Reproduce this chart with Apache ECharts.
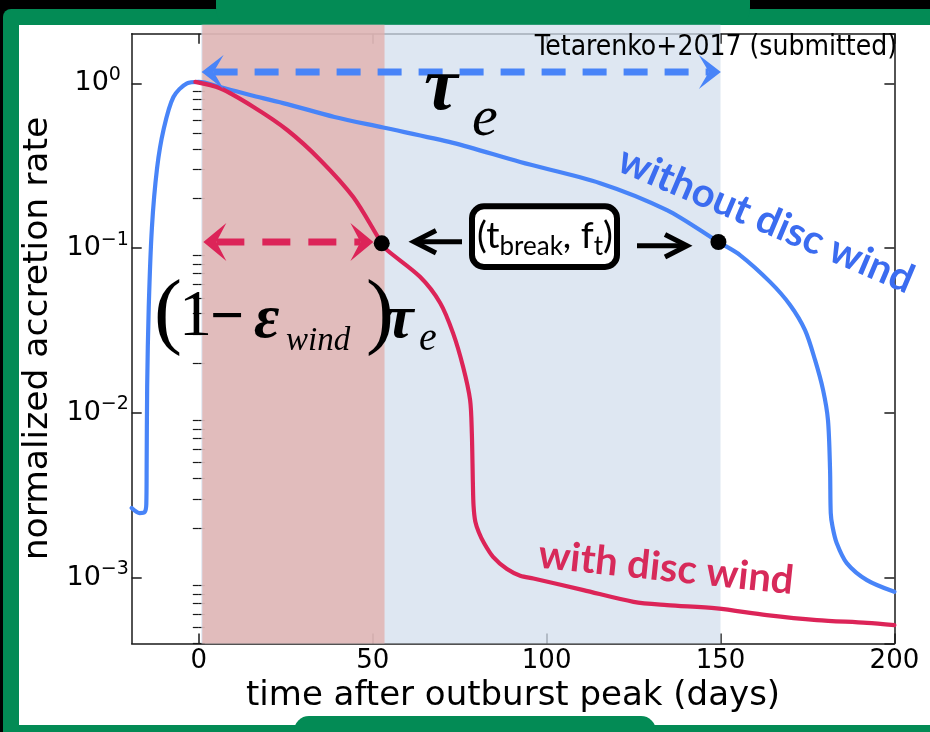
<!DOCTYPE html>
<html>
<head>
<meta charset="utf-8">
<script src="https://cdn.jsdelivr.net/npm/echarts@6/dist/echarts.min.js"></script>
<style>
  html, body { margin: 0; padding: 0; background: #000; }
  #chart { width: 930px; height: 732px; }
</style>
</head>
<body>
<div id="chart"></div>
<script>
// Outburst decay of the accretion rate (normalised to peak), with and without a disc wind.

// time after outburst peak (days) and normalised accretion rate, no disc wind
const noWindT = [-19.3, -17.0, -15.6, -15.1, -15.0, -14.85, -14.4, -13.5, -12.0, -10.1, -7.3, -3.4, 0.0,
  6.1, 15.6, 25.4, 39.0, 53.0, 73.1, 92.4, 115.4, 134.6, 149.4, 155.6, 164.3, 170.0, 174.3, 177.2, 179.5,
  180.9, 181.5, 181.7, 182.2, 183.4, 186.3, 192.1, 200.0];
const noWindRate = [2.65e-3, 2.47e-3, 2.5e-3, 2.8e-3, 4.8e-3, 0.0146, 0.0439, 0.132, 0.306, 0.528, 0.826, 1.0, 1.02,
  0.95, 0.84, 0.748, 0.625, 0.539, 0.435, 0.333, 0.248, 0.170, 0.109, 0.0908, 0.0622, 0.0452, 0.0318, 0.0209, 0.01377,
  0.00906, 0.00451, 0.00247, 0.00205, 0.001625, 0.001228, 0.000968, 0.000822];

// same, with a disc wind
const windT = [-1.0, 6.1, 15.6, 25.4, 34.9, 44.4, 52.6, 54.1, 63.6, 69.4, 73.1, 76.0, 78.0, 78.5, 78.8, 79.0,
  79.5, 80.5, 82.0, 84.6, 88.6, 92.4, 96.2, 110.6, 125.0, 134.6, 148.9, 163.3, 177.7, 192.1, 200.0];
const windRate = [1.02, 0.933, 0.721, 0.521, 0.343, 0.204, 0.107, 0.0974, 0.067, 0.0465, 0.0305, 0.019, 0.01198,
  0.00755, 0.00376, 0.00272, 0.00219, 0.00189, 0.001625, 0.00134, 0.00113, 0.00103, 0.00099, 0.000842, 0.000715,
  0.000683, 0.000652, 0.000594, 0.000554, 0.000533, 0.000516];

// break points (t_break, f_t): [with wind, without wind]
const breakT = [52.6, 149.4];
const breakRate = [0.107, 0.109];

// e-folding time spans drawn as double arrows
const tauSpan = [0.8, 150.1];
const tauLevel = 1.17;
const windSpan = [1.3, 50.2];
const windLevel = 0.109;

// shaded intervals
const tauBand = [0.7, 150.0];
const windBand = [1.0, 53.4];

// axes
const xRange = [-19.3, 200];
const yRange = [4e-4, 2];
const xTicks = [0, 50, 100, 150, 200];
const yMinorTicks = [4e-4, 5e-4, 6e-4, 7e-4, 8e-4, 9e-4,
  2e-3, 3e-3, 4e-3, 5e-3, 6e-3, 7e-3, 8e-3, 9e-3,
  2e-2, 3e-2, 4e-2, 5e-2, 6e-2, 7e-2, 8e-2, 9e-2,
  0.2, 0.3, 0.4, 0.5, 0.6, 0.7, 0.8, 0.9];

const BLUE = '#4884f8';
const RED = '#dc2458';
const GREEN = '#038b55';
const INK = '#1a1a1a';

const zip = (xs, ys) => xs.map((x, i) => [x, ys[i]]);

function bandItem(fill) {
  return function (params, api) {
    const cs = params.coordSys;
    const a = api.coord([api.value(0), 1]);
    const b = api.coord([api.value(1), 1]);
    return {
      type: 'rect',
      shape: { x: a[0], y: cs.y - 9, width: b[0] - a[0], height: cs.height + 9 },
      style: { fill: fill }
    };
  };
}

function doubleArrow(span, level, color, lw, dash, head) {
  return function (params, api) {
    const p0 = api.coord([span[0], level]);
    const p1 = api.coord([span[1], level]);
    const y = p0[1];
    const L = head.len, W = head.half, N = head.notch;
    return {
      type: 'group',
      children: [
        { type: 'line', shape: { x1: p0[0] + N, y1: y, x2: p1[0] - N, y2: y },
          style: { stroke: color, lineWidth: lw, lineDash: dash } },
        { type: 'polygon', shape: { points: [[p0[0], y], [p0[0] + L, y - W], [p0[0] + N, y], [p0[0] + L, y + W]] },
          style: { fill: color } },
        { type: 'polygon', shape: { points: [[p1[0], y], [p1[0] - L, y - W], [p1[0] - N, y], [p1[0] - L, y + W]] },
          style: { fill: color } }
      ]
    };
  };
}

function glyph(text, x, base, size, extra) {
  return {
    type: 'text', z: 30, x: x, y: base - 0.34 * size,
    style: Object.assign({
      text: text, fontSize: size, fontFamily: 'Liberation Serif', fill: '#000',
      align: 'left', verticalAlign: 'middle'
    }, extra || {})
  };
}

const logLabel = v => {
  const e = Math.round(Math.log10(v));
  return '{b|10}{s|' + (e < 0 ? '\u2212' + (-e) : e) + '}';
};

const xBase = {
  type: 'value', min: xRange[0], max: xRange[1],
  axisLine: { show: true, onZero: false, lineStyle: { color: INK, width: 1.5 } },
  axisTick: { show: true, inside: true, length: 10, customValues: xTicks, lineStyle: { color: INK, width: 1.5 } },
  splitLine: { show: false }
};
const yBase = {
  type: 'log', logBase: 10, min: yRange[0], max: yRange[1],
  splitLine: { show: false }, minorSplitLine: { show: false }
};
const majorTick = { show: true, inside: true, length: 10, lineStyle: { color: INK, width: 1.5 } };
const minorTick = { show: true, inside: true, length: 6, customValues: yMinorTicks, lineStyle: { color: INK, width: 1.2 } };
const frameLine = { show: true, onZero: false, lineStyle: { color: INK, width: 1.5 } };

const chart = echarts.init(document.getElementById('chart'), null, { renderer: 'canvas' });

chart.setOption({
  backgroundColor: '#000',
  animation: false,
  grid: { left: 131.7, right: 35.6, top: 33.7, bottom: 88.6, containLabel: false, outerBoundsMode: 'none' },
  xAxis: [
    Object.assign({}, xBase, {
      position: 'bottom',
      axisLabel: { customValues: xTicks, fontSize: 26, fontFamily: 'DejaVu Sans', color: '#000', margin: 5 },
      name: 'time after outburst peak (days)', nameLocation: 'middle', nameGap: 35,
      nameTextStyle: { fontSize: 34, fontFamily: 'DejaVu Sans', color: '#000' }
    }),
    Object.assign({}, xBase, { position: 'top', axisLabel: { show: false } })
  ],
  yAxis: [
    Object.assign({}, yBase, {
      position: 'left', axisLine: frameLine, axisTick: majorTick,
      axisLabel: {
        formatter: logLabel, align: 'center', margin: 34, showMinLabel: false, showMaxLabel: false,
        fontSize: 27, fontFamily: 'DejaVu Sans', color: '#000',
        rich: {
          b: { fontSize: 27, fontFamily: 'DejaVu Sans', color: '#000', lineHeight: 36, verticalAlign: 'middle' },
          s: { fontSize: 19, fontFamily: 'DejaVu Sans', color: '#000', lineHeight: 17, verticalAlign: 'top' }
        }
      },
      name: 'normalized accretion rate', nameLocation: 'middle', nameGap: 69,
      nameTextStyle: { fontSize: 34.5, fontFamily: 'DejaVu Sans', color: '#000' }
    }),
    Object.assign({}, yBase, { position: 'left', axisLine: { show: false }, axisTick: minorTick, axisLabel: { show: false } }),
    Object.assign({}, yBase, { position: 'right', axisLine: frameLine, axisTick: majorTick,
      axisLabel: { show: false, showMinLabel: false, showMaxLabel: false } }),
    Object.assign({}, yBase, { position: 'right', axisLine: { show: false }, axisTick: minorTick, axisLabel: { show: false } })
  ],
  series: [
    { type: 'custom', name: 'tau band', z: 1, clip: false, silent: true,
      encode: { x: [0, 1] }, data: [tauBand], renderItem: bandItem('rgba(211,223,238,0.75)') },
    { type: 'custom', name: 'wind band', z: 1, clip: false, silent: true,
      encode: { x: [0, 1] }, data: [windBand], renderItem: bandItem('rgba(225,174,170,0.75)') },
    { type: 'line', name: 'without disc wind', z: 3, data: zip(noWindT, noWindRate),
      showSymbol: false, smooth: 0.3,
      lineStyle: { color: BLUE, width: 4.2, cap: 'round', join: 'round' } },
    { type: 'line', name: 'with disc wind', z: 3, data: zip(windT, windRate),
      showSymbol: false, smooth: 0.3,
      lineStyle: { color: RED, width: 4.2, cap: 'round', join: 'round' } },
    { type: 'custom', name: 'tau_e', z: 4, clip: false, silent: true,
      data: [[tauSpan[0], tauLevel]],
      renderItem: doubleArrow(tauSpan, tauLevel, BLUE, 7, [24, 17], { len: 22, half: 17, notch: 12 }) },
    { type: 'custom', name: '(1-eps)tau_e', z: 4, clip: false, silent: true,
      data: [[windSpan[0], windLevel]],
      renderItem: doubleArrow(windSpan, windLevel, RED, 7, [28, 18], { len: 23, half: 19, notch: 13 }) },
    { type: 'scatter', name: 'break', z: 6, data: zip(breakT, breakRate),
      symbol: 'circle', symbolSize: 16, itemStyle: { color: '#000', opacity: 1 } }
  ],
  graphic: {
    elements: [
      // frame around the panel
      { type: 'rect', z: -20, shape: { x: 3, y: 9, width: 960, height: 760, r: 8 }, style: { fill: GREEN } },
      { type: 'rect', z: -20, shape: { x: 216, y: -30, width: 534, height: 60, r: 22 }, style: { fill: GREEN } },
      { type: 'rect', z: -19, shape: { x: 19, y: 25, width: 930, height: 700 }, style: { fill: '#fff' } },
      { type: 'rect', z: -18, shape: { x: 294, y: 716, width: 362, height: 40, r: 15 }, style: { fill: GREEN } },

      // reference note
      { type: 'text', z: 30, x: 897, y: 48,
        style: { text: 'Tetarenko+2017 (submitted)', fontSize: 28, fontFamily: 'DejaVu Sans Condensed, DejaVu Sans',
          fill: '#000', align: 'right', verticalAlign: 'middle' } },

      // tau_e
      glyph('\u03c4', 424, 115, 76, { fontWeight: 'bold', fontStyle: 'italic' }),
      glyph('e', 472, 139, 58, { fontStyle: 'italic' }),

      // (1 - eps_wind) tau_e
      glyph('(', 154, 344, 84),
      glyph('1', 179, 340, 66),
      glyph('\u2212', 210, 340, 60, { fontWeight: 'bold' }),
      glyph('\u03b5', 254, 342, 62, { fontWeight: 'bold', fontStyle: 'italic' }),
      glyph('wind', 286, 353, 33, { fontStyle: 'italic' }),
      glyph(')', 366, 344, 84),
      glyph('\u03c4', 386, 342, 62, { fontWeight: 'bold', fontStyle: 'italic' }),
      glyph('e', 419, 353, 40, { fontStyle: 'italic' }),

      // (t_break, f_t) box with pointers
      { type: 'rect', z: 30, shape: { x: 472, y: 206.3, width: 145, height: 60.7, r: 12 },
        style: { fill: '#fff', stroke: '#000', lineWidth: 6 } },
      { type: 'text', z: 31, x: 545, y: 236.5,
        style: { text: '{m|(t}{s|break}{m|, f}{s|t}{m|)}', align: 'center', verticalAlign: 'middle',
          rich: {
            m: { fontSize: 37, fontFamily: 'Lato', fill: '#000', lineHeight: 46, verticalAlign: 'middle' },
            s: { fontSize: 26, fontFamily: 'Lato', fill: '#000', lineHeight: 26, verticalAlign: 'bottom' }
          } } },
      { type: 'polyline', z: 30, shape: { points: [[462, 241.7], [415, 241.7]] }, style: { stroke: '#000', lineWidth: 5 } },
      { type: 'polyline', z: 30, shape: { points: [[436, 230.5], [414, 241.7], [436, 252.9]] },
        style: { stroke: '#000', lineWidth: 5, fill: null, lineJoin: 'miter' } },
      { type: 'polyline', z: 30, shape: { points: [[637, 245.7], [685, 245.7]] }, style: { stroke: '#000', lineWidth: 5 } },
      { type: 'polyline', z: 30, shape: { points: [[665, 234.5], [687, 245.7], [665, 256.9]] },
        style: { stroke: '#000', lineWidth: 5, fill: null, lineJoin: 'miter' } },

      // curve labels
      { type: 'text', z: 30, x: 766, y: 220, rotation: -23 * Math.PI / 180,
        style: { text: 'without disc wind', fontSize: 40, fontWeight: 'bold', fontFamily: 'Lato',
          fill: '#3b6cf0', align: 'center', verticalAlign: 'middle' } },
      { type: 'text', z: 30, x: 666, y: 568, rotation: -6 * Math.PI / 180,
        style: { text: 'with disc wind', fontSize: 40, fontWeight: 'bold', fontFamily: 'Lato',
          fill: '#d72a5a', align: 'center', verticalAlign: 'middle' } }
    ]
  }
});
</script>
</body>
</html>
